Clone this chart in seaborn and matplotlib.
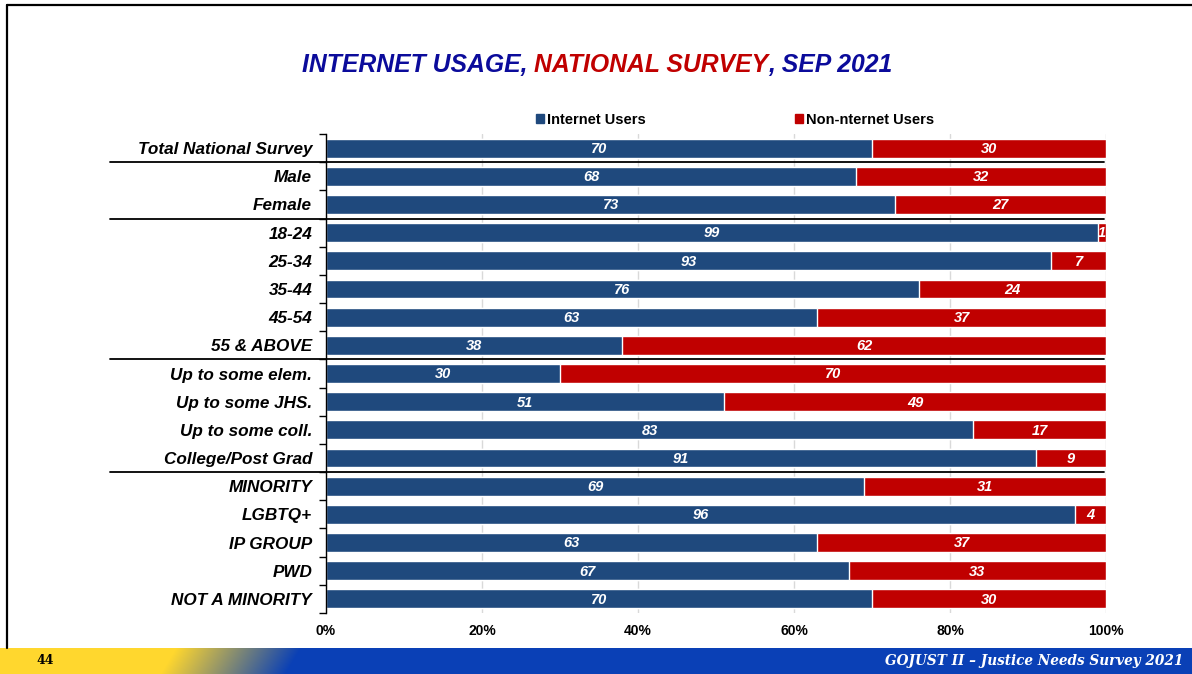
import numpy as np
import matplotlib
matplotlib.use("Agg")
import matplotlib.pyplot as plt
import pandas as pd
import seaborn as sns
from matplotlib.patches import Rectangle
from matplotlib.lines import Line2D

# ---- data -------------------------------------------------------------
categories = [
    "Total National Survey", "Male", "Female",
    "18-24", "25-34", "35-44", "45-54", "55 & ABOVE",
    "Up to some elem.", "Up to some JHS.", "Up to some coll.", "College/Post Grad",
    "MINORITY", "LGBTQ+", "IP GROUP", "PWD", "NOT A MINORITY",
]
internet_users = [70, 68, 73, 99, 93, 76, 63, 38, 30, 51, 83, 91, 69, 96, 63, 67, 70]
non_internet_users = [30, 32, 27, 1, 7, 24, 37, 62, 70, 49, 17, 9, 31, 4, 37, 33, 30]
series_names = ["Internet Users", "Non-nternet Users"]
group_starts = [1, 3, 8, 12]          # first row of each new respondent group
x_ticks = [0, 20, 40, 60, 80, 100]
x_tick_labels = ["0%", "20%", "40%", "60%", "80%", "100%"]

# ---- style --------------------------------------------------------------
BLUE = "#1F497D"
RED = "#C00000"
NAVY = "#0B0B9B"
YELLOW = np.array([255, 215, 46]) / 255
BAND_BLUE = np.array([10, 64, 182]) / 255

sns.set_theme(style="white")
plt.rcParams["font.family"] = ["Liberation Sans", "DejaVu Sans"]
for key in ["text.color", "axes.labelcolor", "xtick.color", "ytick.color"]:
    plt.rcParams[key] = "black"

W, H = 1192, 674
fig = plt.figure(figsize=(W / 100, H / 100), dpi=100)
fig.patch.set_facecolor("white")

df = pd.DataFrame({
    "category": categories,
    "internet": internet_users,
    "non_internet": non_internet_users,
})
df["cumulative"] = df["internet"] + df["non_internet"]

ax = fig.add_axes([326 / W, 1 - 613 / H, 780 / W, 479 / H])
ax.set_axisbelow(True)
ax.xaxis.grid(True, color="#D9D9D9", lw=1)

# stacked horizontal bars: red drawn to the cumulative total, blue on top
sns.barplot(data=df, y="category", x="cumulative", color=RED, saturation=1,
            width=0.67, orient="h", ax=ax)
sns.barplot(data=df, y="category", x="internet", color=BLUE, saturation=1,
            width=0.67, orient="h", ax=ax)

lab_kw = dict(color="white", fontsize=10.5, fontweight="bold", fontstyle="italic",
              ha="center", va="center")
for i, row in df.iterrows():
    ax.text(row["internet"] / 2, i + 0.03, f"{row['internet']}", **lab_kw)
    ax.text(row["internet"] + row["non_internet"] / 2, i + 0.03,
            f"{row['non_internet']}", **lab_kw)

n = len(categories)
ax.set_xlim(0, 100)
ax.set_ylim(n - 0.5, -0.5)
ax.set_xlabel("")
ax.set_ylabel("")
ax.set_xticks(x_ticks)
ax.set_xticklabels(x_tick_labels, fontsize=10, fontweight="bold")
ax.set_yticks(range(n))
ax.set_yticklabels(categories, fontsize=12.3, fontweight="bold", fontstyle="italic")
ax.set_yticks(np.arange(-0.5, n, 1), minor=True)
ax.tick_params(axis="x", length=0, pad=8)
ax.tick_params(axis="y", which="major", length=0, pad=10)
ax.tick_params(axis="y", which="minor", left=True, length=5, width=1,
               color="black", direction="out")
for side in ["top", "right", "bottom"]:
    ax.spines[side].set_visible(False)
ax.spines["left"].set_color("black")
ax.spines["left"].set_linewidth(1)

# group separators across labels and bars
ytrans = ax.get_yaxis_transform()
for g in group_starts:
    ax.plot([(110 - 326) / 780, 0.997], [g - 0.5, g - 0.5], transform=ytrans,
            color="black", lw=1.3, clip_on=False, zorder=5)

# ---- legend -------------------------------------------------------------
handles = [Rectangle((0, 0), 1, 1, color=BLUE), Rectangle((0, 0), 1, 1, color=RED)]
fig.legend(handles, series_names, loc="center", bbox_to_anchor=(735 / W, 1 - 120 / H),
           ncol=2, frameon=False, prop=dict(weight="bold", size=10.5),
           handlelength=0.55, handleheight=0.55, handletextpad=0.25, columnspacing=10.2)

# ---- title in three colours ----------------------------------------------
renderer = fig.canvas.get_renderer()
title_kw = dict(fontsize=17.8, fontweight="bold", fontstyle="italic", va="center")
parts = [("INTERNET USAGE,", NAVY), ("NATIONAL SURVEY", RED), (", SEP 2021", NAVY)]
gaps = [0, 1, 0]  # whether a space precedes the part
probe1 = fig.text(0, 0, "II", **title_kw)
probe2 = fig.text(0, 0, "I I", **title_kw)
space_w = (probe2.get_window_extent(renderer).width
           - probe1.get_window_extent(renderer).width)
probe1.remove()
probe2.remove()
texts, widths = [], []
for s, c in parts:
    t = fig.text(0, 0, s, color=c, **title_kw)
    texts.append(t)
    widths.append(t.get_window_extent(renderer).width)
total = sum(widths) + space_w * sum(gaps)
x = 597 - total / 2
for t, w, g in zip(texts, widths, gaps):
    x += g * space_w
    t.set_position((x / W, 1 - 65 / H))
    x += w

# ---- footer band ----------------------------------------------------------
band_h = 26
fax = fig.add_axes([0, 0, 1, band_h / H])
xs = np.arange(W)[None, :]
ys = np.arange(band_h)[:, None]
frac = np.clip((xs - 160 - (band_h - ys) * 0.6) / 125.0, 0, 1)
img = (1 - frac)[..., None] * YELLOW + frac[..., None] * BAND_BLUE
fax.imshow(img, aspect="auto", extent=[0, W, 0, band_h], origin="upper")
fax.set_xlim(0, W)
fax.set_ylim(0, band_h)
fax.axis("off")
serif = ["DejaVu Serif", "Liberation Serif"]
fax.text(36, band_h / 2, "44", color="black", fontsize=9, fontweight="bold",
         family=serif, va="center", ha="left")
fax.text(1183, band_h / 2, "GOJUST II \u2013 Justice Needs Survey 2021", color="white",
         fontsize=9.8, fontweight="bold", fontstyle="italic",
         family=serif, va="center", ha="right")

# ---- slide frame -----------------------------------------------------------
fig.add_artist(Line2D([7 / W, 7 / W], [band_h / H, 1 - 5 / H], transform=fig.transFigure,
                      color="black", lw=1.6))
fig.add_artist(Line2D([7 / W, 1], [1 - 5 / H, 1 - 5 / H], transform=fig.transFigure,
                      color="black", lw=1.6))

fig.savefig("out.png", dpi=100, facecolor="white")
